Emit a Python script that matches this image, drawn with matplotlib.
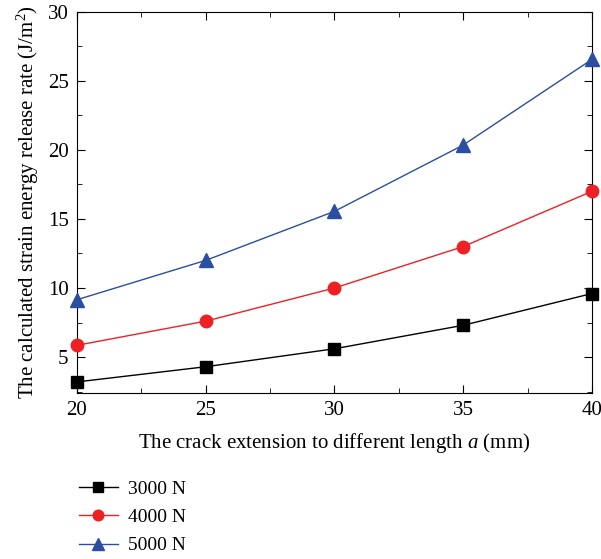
import numpy as np
import matplotlib.pyplot as plt
from matplotlib.ticker import MultipleLocator

plt.rcParams['font.family'] = ['Liberation Serif', 'DejaVu Serif']
plt.rcParams['mathtext.fontset'] = 'custom'
plt.rcParams['mathtext.rm'] = 'Liberation Serif'
plt.rcParams['mathtext.it'] = 'Liberation Serif:italic'

# Data
crack_length = [20, 25, 30, 35, 40]
g_3000 = [3.2, 4.3, 5.6, 7.3, 9.6]
g_4000 = [5.85, 7.6, 10.0, 13.0, 17.0]
g_5000 = [9.15, 12.0, 15.55, 20.35, 26.55]

fig = plt.figure(figsize=(6.01, 5.59), dpi=100)
ax = fig.add_axes([0.128, 0.297, 0.857, 0.682])

ax.plot(crack_length, g_3000, color="black", marker="s", markersize=8, lw=1, label="3000 N", clip_on=False, zorder=3)
ax.plot(crack_length, g_4000, color="#ee2024", marker="o", markersize=9, lw=1, label="4000 N", clip_on=False, zorder=3)
ax.plot(crack_length, g_5000, color="#2b4ea2", marker="^", markersize=10, lw=1, label="5000 N", clip_on=False, zorder=3)

ax.set_xlim(20, 40)
ax.set_ylim(2.4, 30)
ax.xaxis.set_major_locator(MultipleLocator(5))
ax.xaxis.set_minor_locator(MultipleLocator(2.5))
ax.yaxis.set_major_locator(MultipleLocator(5))
ax.yaxis.set_minor_locator(MultipleLocator(2.5))
ax.tick_params(which="both", direction="in", top=True, right=True, labelsize=15, pad=6)
ax.tick_params(which="major", length=6)
ax.tick_params(which="minor", length=3.5)

ax.set_xlabel("The crack extension to different length $a$ (mm)", fontsize=15, labelpad=8)
ax.set_ylabel("The calculated strain energy release rate (J/m$^2$)", fontsize=15, labelpad=5)

fig.legend(loc="upper left", bbox_to_anchor=(0.118, 0.155), frameon=False, fontsize=14,
           handlelength=2.0, handletextpad=0.55, markerscale=0.85, labelspacing=0.55,
           borderaxespad=0)

plt.savefig("out.png", dpi=100)
